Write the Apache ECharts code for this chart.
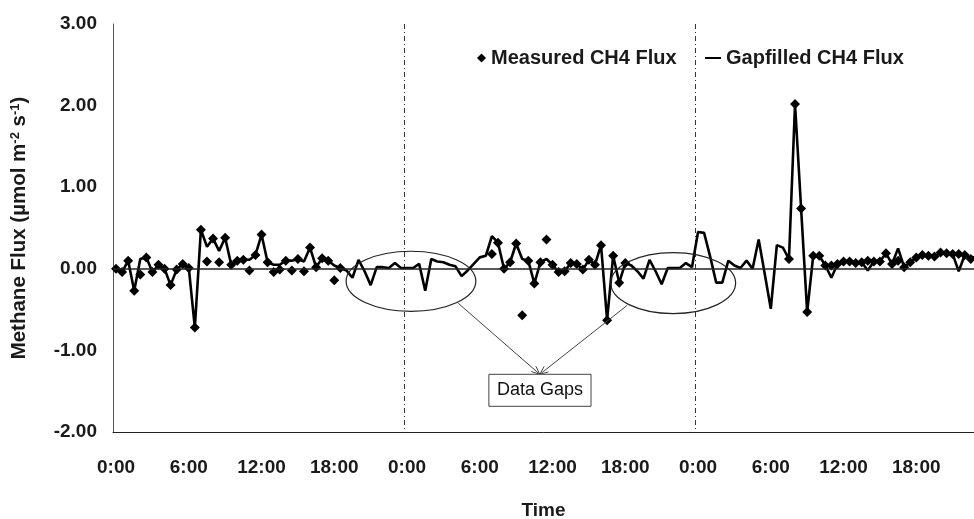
<!DOCTYPE html>
<html>
<head>
<meta charset="utf-8">
<script src="https://cdn.jsdelivr.net/npm/echarts@6/dist/echarts.min.js"></script>
<style>
html,body{margin:0;padding:0;background:#fff;}
#chart{width:974px;height:519px;}
</style>
</head>
<body>
<div id="chart"></div>
<script>
// ---- Data (half-hourly, 3 days) ----
const dayHours = ['0','1','2','3','4','5','6','7','8','9','10','11','12','13','14','15','16','17','18','19','20','21','22','23'];
const tickLabels = ['0:00','6:00','12:00','18:00'];
const categories = [];
for (let d = 0; d < 3; d++) { for (const h of dayHours) { categories.push(h + ':00'); categories.push(h + ':30'); } }

const gapfilled = [
  0.00,-0.04,0.10,-0.27,0.12,0.14,-0.04,0.05,0.00,-0.20,
  -0.01,0.06,0.01,-0.72,0.48,0.27,0.37,0.22,0.38,0.05,
  0.10,0.11,0.11,0.17,0.42,0.08,0.05,0.05,0.10,0.10,
  0.12,0.09,0.26,0.02,0.13,0.10,0.04,0.01,-0.02,-0.11,
  0.11,-0.03,-0.20,0.02,0.02,0.01,0.07,0.01,0.01,0.01,
  0.06,-0.27,0.12,0.09,0.08,0.05,0.03,-0.09,-0.02,0.06,
  0.14,0.16,0.40,0.32,0.00,0.08,0.31,0.12,0.10,-0.18,
  0.08,0.12,0.05,-0.04,-0.03,0.07,0.06,-0.01,0.11,0.05,
  0.29,-0.63,0.16,-0.17,0.07,0.04,-0.03,-0.12,0.11,-0.03,
  -0.19,0.01,0.01,0.01,0.07,0.02,0.45,0.44,0.15,-0.17,
  -0.17,0.10,0.04,0.01,0.10,0.00,0.36,-0.06,-0.49,0.29,
  0.26,0.12,2.02,0.74,-0.53,0.16,0.16,0.04,-0.11,0.06,
  0.09,0.09,0.07,0.08,-0.02,0.09,0.09,0.19,0.06,0.25,
  0.02,0.08,0.14,0.17,0.16,0.15,0.20,0.19,0.18,-0.03,
  0.17,0.12,0.14,0.15
];
const measured = [
  0.00,-0.04,0.10,-0.27,-0.07,0.14,-0.04,0.05,0.00,-0.20,
  -0.01,0.06,0.01,-0.72,0.48,0.09,0.37,0.08,0.38,0.05,
  0.10,0.11,-0.02,0.17,0.42,0.08,-0.04,-0.01,0.10,-0.02,
  0.12,-0.03,0.26,0.02,0.13,0.10,-0.14,0.01,null,null,
  null,null,null,null,null,null,null,null,null,null,
  null,null,null,null,null,null,null,null,null,null,
  null,null,0.18,0.32,0.00,0.08,0.31,-0.57,0.10,-0.18,
  0.08,0.36,0.05,-0.04,-0.03,0.07,0.06,-0.01,0.11,0.05,
  0.29,-0.63,0.16,-0.17,0.07,null,null,null,null,null,
  null,null,null,null,null,null,null,null,null,null,
  null,null,null,null,null,null,null,null,null,null,
  null,0.12,2.02,0.74,-0.53,0.16,0.16,0.04,0.04,0.06,
  0.09,0.09,0.07,0.08,0.10,0.09,0.09,0.19,0.06,0.10,
  0.02,0.08,0.14,0.17,0.16,0.15,0.20,0.19,0.18,0.18,
  0.17,0.12,0.14,0.15
];

// annotation anchors in data units: [category index, flux]
const gapEllipses = [ {c:[48.65,-0.153], r:[10.7,0.368]}, {c:[91.9,-0.175], r:[10.3,0.374]} ];
const gapBox = [[61.5,-1.293],[78.35,-1.685]];
const arrowTip = [69.9,-1.293];
const arrowStarts = [[56.46,-0.423],[84.33,-0.447]];

const FONT = "'Liberation Sans', Arial, Helvetica, sans-serif";
const chart = echarts.init(document.getElementById('chart'), null, {renderer:'canvas'});
const txt = {fontFamily: FONT, fontWeight: 'bold', fontSize: 19, color: '#1a1a1a'};

chart.setOption({
  animation: false,
  backgroundColor: '#fff',
  grid: {left: 113, top: 24, bottom: 87, right: -12, containLabel: false, outerBoundsMode: 'none'},
  legend: [
    {data: ['Measured CH4 Flux'], left: 472, top: 43, icon: 'diamond', itemWidth: 9, itemHeight: 9,
     selectedMode: false, textStyle: Object.assign({}, txt, {fontSize: 20})},
    {data: ['Gapfilled CH4 Flux'], left: 700, top: 43, icon: 'rect', itemWidth: 16, itemHeight: 2,
     selectedMode: false, textStyle: Object.assign({}, txt, {fontSize: 20})}
  ],
  xAxis: {
    type: 'category', data: categories, boundaryGap: true,
    name: 'Time', nameLocation: 'middle', nameGap: 69, nameTextStyle: Object.assign({}, txt, {padding: [0, 12, 0, 0]}),
    axisLine: {onZero: false, lineStyle: {color: '#222', width: 1}},
    axisTick: {show: false},
    axisLabel: Object.assign({}, txt, {margin: 26, interval: function (i) { return i % 12 === 0; },
      formatter: function (v, i) { return tickLabels[(i / 12) % 4]; }}),
    splitLine: {show: true, interval: function (i) { return i % 48 === 0 && i > 0; },
      lineStyle: {color: '#333', width: 1, type: [5, 3, 1, 3]}}
  },
  yAxis: {
    type: 'value', min: -2, max: 3, interval: 1,
    name: 'Methane Flux (µmol m{sup|-2} s{sup|-1})', nameLocation: 'middle', nameGap: 83,
    nameTextStyle: Object.assign({}, txt, {fontSize: 20.5, rich: {sup: {fontFamily: FONT, fontWeight: 'bold', fontSize: 13, color: '#1a1a1a', verticalAlign: 'top', lineHeight: 13}}}),
    axisLine: {show: true, lineStyle: {color: '#555', width: 1}},
    axisTick: {show: false},
    axisLabel: Object.assign({}, txt, {margin: 16, formatter: function (v) { return v.toFixed(2); }}),
    splitLine: {show: false}
  },
  series: [
    {name: 'Gapfilled CH4 Flux', type: 'line', data: gapfilled, showSymbol: false, symbol: 'none',
     lineStyle: {color: '#000', width: 2.6}, itemStyle: {color: '#000'}, z: 3,
     markLine: {silent: true, symbol: 'none', label: {show: false}, data: [{yAxis: 0}],
       lineStyle: {color: '#222', width: 1.5, type: 'solid'}}},
    {name: 'Measured CH4 Flux', type: 'scatter', data: measured, symbol: 'diamond', symbolSize: 10,
     itemStyle: {color: '#000', opacity: 1}, z: 4}
  ]
});

// ---- annotations placed from data units ----
function px(p) {
  const a = chart.convertToPixel({gridIndex: 0}, [0, 0]);
  const b = chart.convertToPixel({gridIndex: 0}, [48, 1]);
  const sx = (b[0] - a[0]) / 48, sy = (b[1] - a[1]);
  return [a[0] + p[0] * sx, a[1] + p[1] * sy];
}
function scale() {
  const a = chart.convertToPixel({gridIndex: 0}, [0, 0]);
  const b = chart.convertToPixel({gridIndex: 0}, [48, 1]);
  return [(b[0] - a[0]) / 48, Math.abs(b[1] - a[1])];
}
const s = scale();
const g = [];
gapEllipses.forEach(function (e) {
  const c = px(e.c);
  g.push({type: 'ellipse', shape: {cx: c[0], cy: c[1], rx: e.r[0] * s[0], ry: e.r[1] * s[1]},
    style: {fill: null, stroke: '#222', lineWidth: 1.2}, z: 10});
});
const tip = px(arrowTip);
arrowStarts.forEach(function (st) {
  const p = px(st);
  g.push({type: 'line', shape: {x1: p[0], y1: p[1], x2: tip[0], y2: tip[1]}, style: {stroke: '#444', lineWidth: 1}, z: 10});
  const ang = Math.atan2(tip[1] - p[1], tip[0] - p[0]);
  const L = 9, w = 0.4;
  g.push({type: 'polyline', shape: {points: [
    [tip[0] - L * Math.cos(ang - w), tip[1] - L * Math.sin(ang - w)], tip,
    [tip[0] - L * Math.cos(ang + w), tip[1] - L * Math.sin(ang + w)]]},
    style: {stroke: '#444', lineWidth: 1, fill: null}, z: 10});
});
const b0 = px(gapBox[0]), b1 = px(gapBox[1]);
g.push({type: 'rect', shape: {x: b0[0], y: b0[1], width: b1[0] - b0[0], height: b1[1] - b0[1]},
  style: {fill: '#fff', stroke: '#444', lineWidth: 1}, z: 11});
g.push({type: 'text', x: (b0[0] + b1[0]) / 2, y: (b0[1] + b1[1]) / 2,
  style: {text: 'Data Gaps', fontFamily: FONT, fontSize: 18, fill: '#111', align: 'center', verticalAlign: 'middle'}, z: 12});
chart.setOption({graphic: g});
</script>
</body>
</html>
